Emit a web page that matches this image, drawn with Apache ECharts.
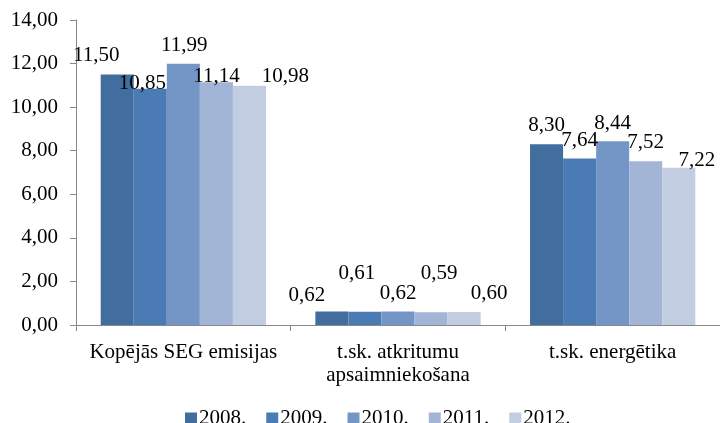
<!DOCTYPE html>
<html>
<head>
<meta charset="utf-8">
<script src="https://cdn.jsdelivr.net/npm/echarts@6/dist/echarts.min.js"></script>
<style>
  html, body { margin: 0; padding: 0; background: #fff; }
  #chart { width: 720px; height: 423px; }
</style>
</head>
<body>
<div id="chart"></div>
<script>
// Emission categories (x axis)
const categories = ['Kopējās SEG emisijas', 't.sk. atkritumu\napsaimniekošana', 't.sk. energētika'];
// Years shown in the legend
const years = ['2008.', '2009.', '2010.', '2011.', '2012.'];
// Values per year, one entry per category
const v2008 = [11.50, 0.62, 8.30];
const v2009 = [10.85, 0.61, 7.64];
const v2010 = [11.99, 0.62, 8.44];
const v2011 = [11.14, 0.59, 7.52];
const v2012 = [10.98, 0.60, 7.22];
const seriesValues = [v2008, v2009, v2010, v2011, v2012];
// Y axis ticks
const yMin = 0, yMax = 14, yStep = 2;

// Presentation
const FONT = '"Liberation Serif", "Times New Roman", serif';
const FS = 21;
const colors = ['#426E9F', '#4A7BB5', '#7496C6', '#A2B5D6', '#C3CDE2'];
// Hand-placed label nudges [dx, dy] per year and category
const labelNudge = [
  [[-21, -8], [-25, -6], [0, -8]],
  [[-8, 5], [-8, -28], [0, -8]],
  [[1, -8], [0, -8], [0, -7]],
  [[0, 5], [8, -28], [0, -8]],
  [[36, 1], [25, -8], [18, 3]]
];

const fmt = v => v.toFixed(2).replace('.', ',');

const series = years.map((name, si) => ({
  name,
  type: 'bar',
  barGap: '0%',
  barCategoryGap: '23%',
  itemStyle: { color: colors[si] },
  data: seriesValues[si].map((v, ci) => ({
    value: v,
    label: { offset: labelNudge[si][ci] }
  })),
  label: {
    show: true,
    position: 'top',
    distance: 0,
    color: '#000',
    fontFamily: FONT,
    fontSize: FS,
    formatter: p => fmt(p.value)
  }
}));

const chart = echarts.init(document.getElementById('chart'), null, { renderer: 'canvas' });
chart.setOption({
  animation: false,
  backgroundColor: '#fff',
  color: colors,
  grid: { left: 76, top: 20, width: 648, bottom: 98, containLabel: false },
  legend: {
    data: years,
    left: 185,
    top: 408,
    padding: 0,
    itemWidth: 12,
    itemHeight: 12,
    itemGap: 20,
    icon: 'rect',
    textStyle: { fontFamily: FONT, fontSize: FS, color: '#000', padding: [0, 0, 0, -3] }
  },
  xAxis: {
    type: 'category',
    data: categories,
    axisLine: { lineStyle: { color: '#888', width: 1 } },
    axisTick: { show: true, length: 6, alignWithLabel: false, lineStyle: { color: '#888' } },
    axisLabel: {
      interval: 0,
      margin: 16,
      color: '#000',
      fontFamily: FONT,
      fontSize: FS,
      lineHeight: 23
    }
  },
  yAxis: {
    type: 'value',
    min: yMin,
    max: yMax,
    interval: yStep,
    axisLine: { show: true, lineStyle: { color: '#888', width: 1 } },
    axisTick: { show: true, length: 6, lineStyle: { color: '#888' } },
    splitLine: { show: false },
    axisLabel: {
      margin: 18,
      color: '#000',
      fontFamily: FONT,
      fontSize: FS,
      formatter: v => fmt(v)
    }
  },
  series
});
</script>
</body>
</html>
